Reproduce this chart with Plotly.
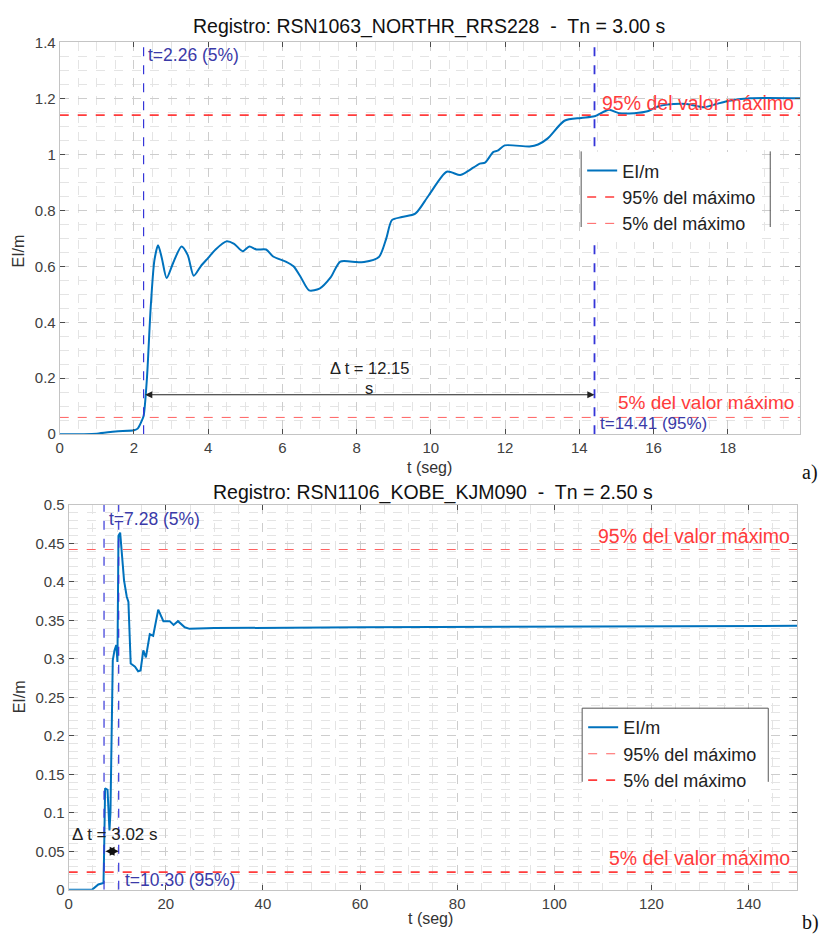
import plotly.graph_objects as go

W, H = 820, 944

# ---------------- data ----------------
t_a = [0, 1.0, 1.5, 2.0, 2.1, 2.2, 2.26, 2.35, 2.45, 2.55, 2.65, 2.75, 2.88, 3.05, 3.28, 3.45,
       3.61, 3.8, 4.0, 4.2, 4.49, 4.7, 4.93, 5.11, 5.3, 5.56, 5.75, 6.09, 6.3, 6.5, 6.72, 7.0,
       7.3, 7.56, 8.0, 8.2, 8.6, 8.8, 8.95, 9.22, 9.58, 9.94, 10.43, 10.79, 11.0, 11.32, 11.46,
       11.68, 11.8, 11.99, 12.66, 12.89, 13.15, 13.6, 14.05, 14.41, 14.8, 15.07, 15.48, 15.84,
       16.1, 16.37, 16.9, 17.35, 17.7, 17.98, 18.6, 19.95]
v_a = [0, 0.002, 0.01, 0.014, 0.02, 0.045, 0.065, 0.2, 0.45, 0.62, 0.675, 0.63, 0.558, 0.61,
       0.671, 0.64, 0.566, 0.6, 0.63, 0.66, 0.689, 0.68, 0.654, 0.671, 0.66, 0.66, 0.635, 0.617,
       0.6, 0.56, 0.514, 0.52, 0.56, 0.617, 0.615, 0.615, 0.633, 0.7, 0.765, 0.776, 0.788, 0.853,
       0.938, 0.926, 0.94, 0.967, 0.97, 1.008, 1.013, 1.032, 1.028, 1.035, 1.057, 1.12, 1.13,
       1.136, 1.159, 1.147, 1.147, 1.154, 1.17, 1.178, 1.18, 1.168, 1.18, 1.19, 1.2, 1.2]
a_max95, a_min5 = 1.14, 0.06
a_t5, a_t95 = 2.26, 14.41

t_b = [0, 4.8, 6.1, 7.17, 7.3, 7.5, 8.0, 8.4, 8.6, 8.9, 9.08, 9.43, 9.8, 10.04, 10.25, 10.6,
       10.9, 11.4, 11.95, 12.3, 12.77, 13.66, 14.3, 14.8, 15.37, 15.9, 16.7, 17.4, 18.44, 19.5,
       20.8, 21.6, 22.5, 23.9, 24.9, 30, 60, 100, 150]
v_b = [0, 0, 0.007, 0.009, 0.05, 0.132, 0.13, 0.077, 0.1, 0.251, 0.298, 0.311, 0.318, 0.296,
       0.46, 0.464, 0.44, 0.402, 0.381, 0.374, 0.294, 0.29, 0.284, 0.285, 0.311, 0.302, 0.332,
       0.33, 0.364, 0.349, 0.349, 0.344, 0.349, 0.341, 0.339, 0.340, 0.341, 0.342, 0.343]
b_max95, b_min5 = 0.442, 0.023
b_t5, b_t95 = 7.28, 10.30

xt_a = [0, 2, 4, 6, 8, 10, 12, 14, 16, 18]
yt_a = [0, 0.2, 0.4, 0.6, 0.8, 1.0, 1.2, 1.4]
yt_a_txt = ["0", "0.2", "0.4", "0.6", "0.8", "1", "1.2", "1.4"]
xt_b = [0, 20, 40, 60, 80, 100, 120, 140]
yt_b = [0, 0.05, 0.1, 0.15, 0.2, 0.25, 0.3, 0.35, 0.4, 0.45, 0.5]
yt_b_txt = ["0", "0.05", "0.1", "0.15", "0.2", "0.25", "0.3", "0.35", "0.4", "0.45", "0.5"]

title_a = "Registro: RSN1063_NORTHR_RRS228 \u00a0-\u00a0 Tn = 3.00 s"
title_b = "Registro: RSN1106_KOBE_KJM090 \u00a0-\u00a0 Tn = 2.50 s"

# ---------------- geometry ----------------
def px(p): return p / W
def py(p): return 1 - p / H

A = dict(l=56, r=800, t=34, b=433)
B = dict(l=65, r=797, t=505, b=897)

BLUE = "#0072BD"
RED = "#ff3b3b"
VIOL = "#3535d8"
TXTB = "#3a3aa8"
FONT = "Liberation Sans, Arial, sans-serif"

fig = go.Figure()

# ---- top panel traces
fig.add_trace(go.Scatter(x=t_a, y=v_a, mode="lines", name="EI/m",
                         line=dict(color=BLUE, width=2, shape="spline", smoothing=0.7),
                         xaxis="x", yaxis="y", legend="legend"))
fig.add_trace(go.Scatter(x=[0, 19.95], y=[a_max95, a_max95], mode="lines", name="95% del máximo",
                         line=dict(color=RED, width=1.6, dash="dash"), xaxis="x", yaxis="y", legend="legend"))
fig.add_trace(go.Scatter(x=[0, 19.95], y=[a_min5, a_min5], mode="lines", name="5% del máximo",
                         line=dict(color="#ff6060", width=1, dash="dash"), xaxis="x", yaxis="y", legend="legend"))
fig.add_trace(go.Scatter(x=[a_t5, a_t5], y=[0, 1.4], mode="lines", showlegend=False,
                         line=dict(color=VIOL, width=1.2, dash="dash"), xaxis="x", yaxis="y"))
fig.add_trace(go.Scatter(x=[a_t95, a_t95], y=[0, 1.4], mode="lines", showlegend=False,
                         line=dict(color=VIOL, width=1.8, dash="dash"), xaxis="x", yaxis="y"))

# ---- bottom panel traces
fig.add_trace(go.Scatter(x=t_b, y=v_b, mode="lines", name="EI/m",
                         line=dict(color=BLUE, width=2), xaxis="x2", yaxis="y2", legend="legend2"))
fig.add_trace(go.Scatter(x=[0, 150], y=[b_max95, b_max95], mode="lines", name="95% del máximo",
                         line=dict(color="#ff6060", width=1.1, dash="dash"), xaxis="x2", yaxis="y2", legend="legend2"))
fig.add_trace(go.Scatter(x=[0, 150], y=[b_min5, b_min5], mode="lines", name="5% del máximo",
                         line=dict(color=RED, width=1.6, dash="dash"), xaxis="x2", yaxis="y2", legend="legend2"))
fig.add_trace(go.Scatter(x=[b_t5, b_t5], y=[0, 0.5], mode="lines", showlegend=False,
                         line=dict(color=VIOL, width=1.2, dash="dash"), xaxis="x2", yaxis="y2"))
fig.add_trace(go.Scatter(x=[b_t95, b_t95], y=[0, 0.5], mode="lines", showlegend=False,
                         line=dict(color=VIOL, width=1.2, dash="dash"), xaxis="x2", yaxis="y2"))

def axis(domain, rng, tv, tt, dtick_minor, anchor):
    return dict(domain=domain, range=rng, tickvals=tv, ticktext=tt, anchor=anchor,
                showline=True, linecolor="#c4c4c4", linewidth=1, mirror="allticks",
                ticks="inside", ticklen=5, tickcolor="#4a4a4a", tickwidth=1,
                showgrid=True, gridcolor="#cdcdcd", griddash="dash", gridwidth=1,
                minor=dict(dtick=dtick_minor, showgrid=True, gridcolor="#e4e4e4", griddash="dash",
                           ticks=""),
                zeroline=False, tickfont=dict(family=FONT, size=15, color="#404040"))

LEG_FONT = dict(family=FONT, size=18, color="#222")
fig.update_layout(
    width=W, height=H, margin=dict(l=0, r=0, t=0, b=0),
    paper_bgcolor="white", plot_bgcolor="white",
    font=dict(family=FONT, color="#222"),
    xaxis=axis([px(A["l"]), px(A["r"])], [0, 19.95], xt_a, [str(v) for v in xt_a], 0.5, "y"),
    yaxis=axis([py(A["b"]), py(A["t"])], [0, 1.4], yt_a, yt_a_txt, 0.05, "x"),
    xaxis2=axis([px(B["l"]), px(B["r"])], [0, 150], xt_b, [str(v) for v in xt_b], 5, "y2"),
    yaxis2=axis([py(B["b"]), py(B["t"])], [0, 0.5], yt_b, yt_b_txt, 0.01, "x2"),
    legend=dict(x=px(581), y=py(146), xanchor="left", yanchor="top", bgcolor="white",
                borderwidth=0, font=LEG_FONT, tracegroupgap=0, itemwidth=30),
    legend2=dict(x=px(582), y=py(713), xanchor="left", yanchor="top", bgcolor="white",
                 borderwidth=0, font=LEG_FONT, tracegroupgap=0, itemwidth=30),
)

shapes = [
    dict(type="line", xref="paper", yref="paper", x0=px(580), x1=px(580), y0=py(145), y1=py(222),
         line=dict(color="#555", width=1)),
    dict(type="line", xref="paper", yref="paper", x0=px(770), x1=px(770), y0=py(145), y1=py(222),
         line=dict(color="#555", width=1)),
    dict(type="line", xref="paper", yref="paper", x0=px(581), x1=px(581), y0=py(712), y1=py(787),
         line=dict(color="#555", width=1)),
    dict(type="line", xref="paper", yref="paper", x0=px(768), x1=px(768), y0=py(712), y1=py(787),
         line=dict(color="#555", width=1)),
    dict(type="line", xref="paper", yref="paper", x0=px(581), x1=px(768), y0=py(712), y1=py(712),
         line=dict(color="#555", width=1)),
]
fig.update_layout(shapes=shapes)

ann = []
def txt(text, x, y, xref, yref, size, color, xanchor="center", yanchor="middle", family=FONT, angle=0):
    ann.append(dict(text=text, x=x, y=y, xref=xref, yref=yref, showarrow=False,
                    xanchor=xanchor, yanchor=yanchor, textangle=angle,
                    font=dict(family=family, size=size, color=color)))

# titles
txt(title_a, px(428), py(18), "paper", "paper", 19.5, "#111")
txt(title_b, px(431), py(492), "paper", "paper", 19.5, "#111")
# axis titles
txt("t (seg)", px(428), py(467), "paper", "paper", 16, "#333")
txt("t (seg)", px(429), py(926), "paper", "paper", 16, "#333")
txt("EI/m", px(15), py(246), "paper", "paper", 16, "#333", angle=-90)
txt("EI/m", px(15), py(700), "paper", "paper", 16, "#333", angle=-90)
# panel labels
txt("a)", px(810), py(472), "paper", "paper", 20, "#111", family="Liberation Serif, Times New Roman, serif")
txt("b)", px(810), py(930), "paper", "paper", 20, "#111", family="Liberation Serif, Times New Roman, serif")

# top annotations
txt("t=2.26 (5%)", 2.33, 1.355, "x", "y", 17.5, TXTB, xanchor="left")
txt("t=14.41 (95%)", 14.5, 0.040, "x", "y", 17, TXTB, xanchor="left")
txt("95% del valor máximo", 19.85, 1.183, "x", "y", 19.5, RED, xanchor="right")
txt("5% del valor máximo", 19.85, 0.113, "x", "y", 19, RED, xanchor="right")
txt("Δ t = 12.15", 8.34, 0.236, "x", "y", 16.5, "#222")
txt("s", 8.34, 0.165, "x", "y", 16.5, "#222")
ann.append(dict(x=a_t95, y=0.141, ax=a_t5, ay=0.141, xref="x", yref="y", axref="x", ayref="y",
                text="", showarrow=True, arrowhead=2, arrowside="end+start", arrowsize=1.2,
                arrowwidth=1.2, arrowcolor="#222", standoff=0, startstandoff=0))

# bottom annotations
txt("t=7.28 (5%)", 7.9, 0.482, "x2", "y2", 17.5, TXTB, xanchor="left")
txt("t=10.30 (95%)", 11.2, 0.013, "x2", "y2", 17.5, TXTB, xanchor="left")
txt("95% del valor máximo", 149, 0.459, "x2", "y2", 19.5, RED, xanchor="right")
txt("5% del valor máximo", 149, 0.041, "x2", "y2", 19.5, RED, xanchor="right")
txt("Δ t = 3.02 s", 0.2, 0.072, "x2", "y2", 17, "#222", xanchor="left")
ann.append(dict(x=b_t95, y=0.05, ax=b_t5, ay=0.05, xref="x2", yref="y2", axref="x2", ayref="y2",
                text="", showarrow=True, arrowhead=2, arrowside="end+start", arrowsize=1.2,
                arrowwidth=1.5, arrowcolor="#111", standoff=0, startstandoff=0))

fig.update_layout(annotations=ann)
fig.write_html("out.html", config={"displayModeBar": False},
               post_script="document.body.style.margin='0px';document.body.style.overflow='hidden';")
